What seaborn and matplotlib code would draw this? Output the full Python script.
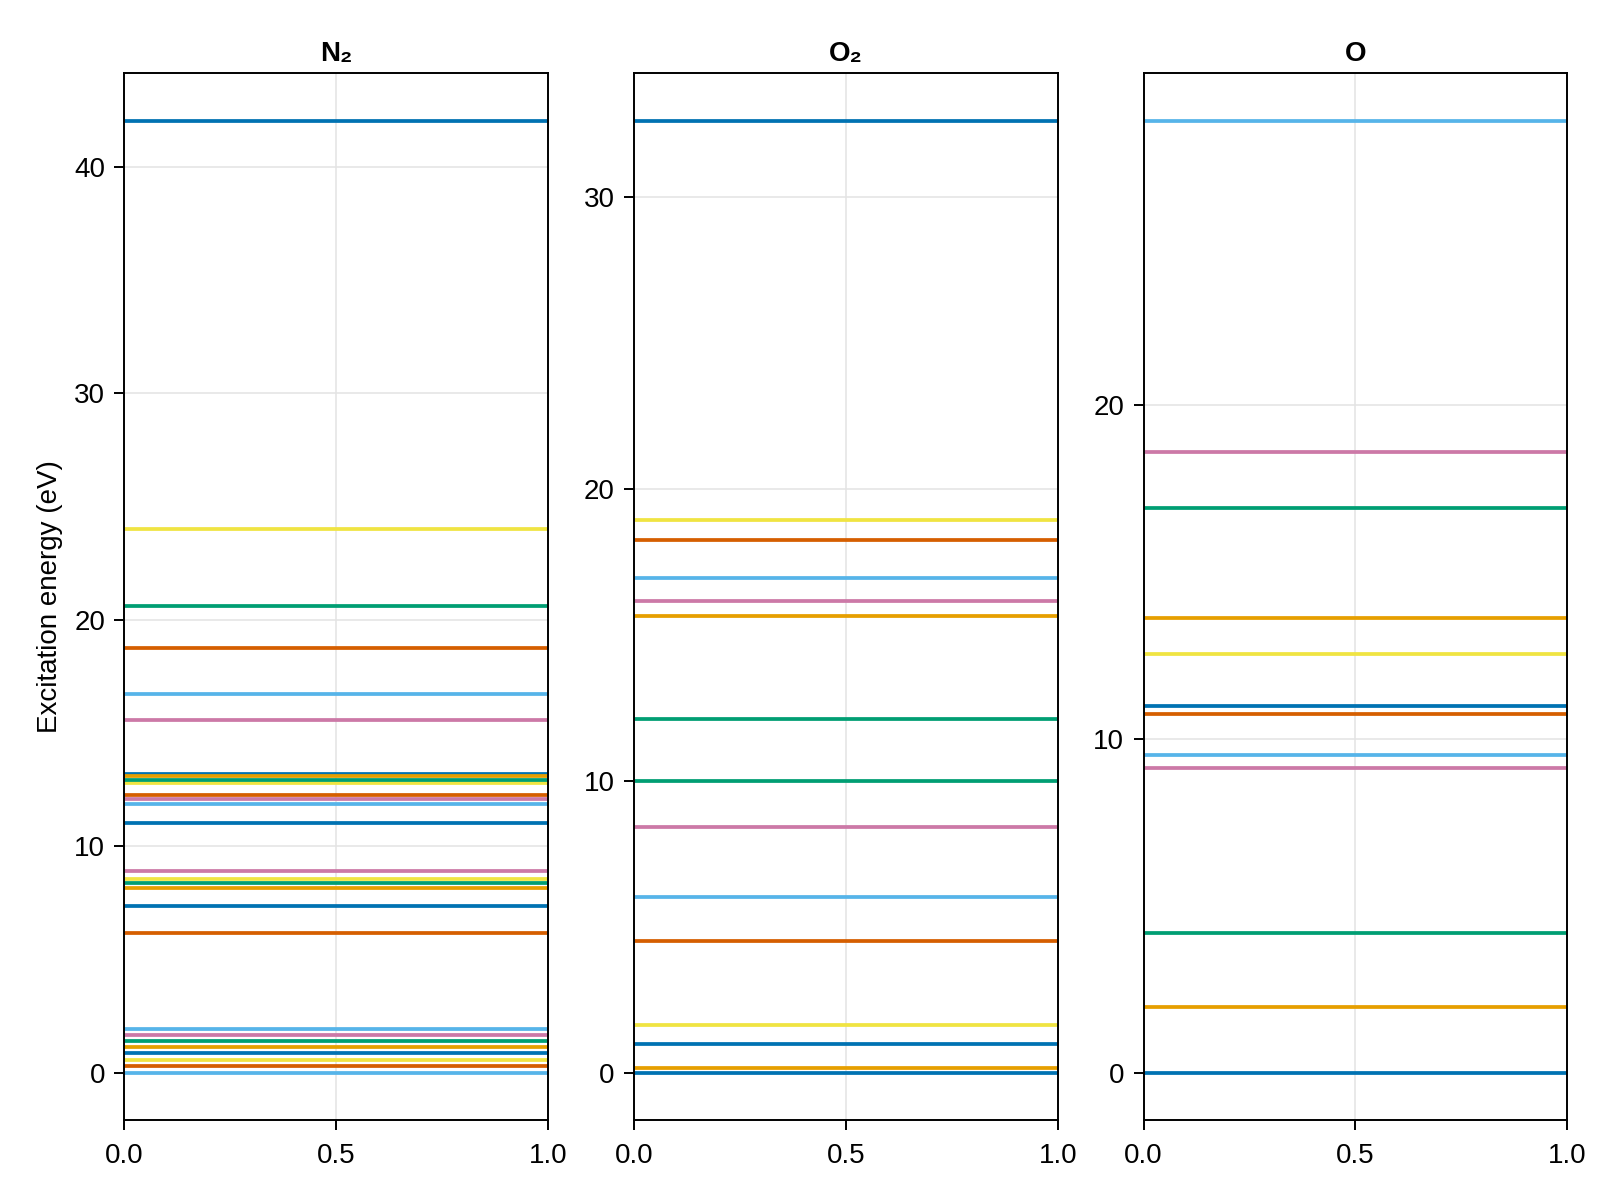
import numpy as np
import seaborn as sns
import matplotlib.pyplot as plt

# energy levels (eV), one list per species
species = ['N₂', 'O₂', 'O']

n2_levels = [0.0, 0.29, 0.57, 0.86, 1.13, 1.40, 1.67, 1.93,
             6.18, 7.36, 8.16, 8.38, 8.56, 8.89,
             11.05, 11.88, 12.08, 12.25, 12.80, 12.95, 13.20, 13.10,
             15.58, 16.73, 18.76, 20.60, 24.01, 42.02]
n2_colors = ['sky', 'verm', 'yellow', 'blue', 'orange', 'green', 'pink', 'sky',
             'verm', 'blue', 'orange', 'green', 'yellow', 'pink',
             'blue', 'sky', 'pink', 'verm', 'yellow', 'green', 'blue', 'orange',
             'pink', 'sky', 'verm', 'green', 'yellow', 'blue']

o2_levels = [0.0, 0.18, 0.98, 1.63, 4.50, 6.01, 8.42, 9.99, 12.10,
             15.63, 16.14, 16.93, 18.25, 18.94, 32.59]
o2_colors = ['blue', 'orange', 'blue', 'yellow', 'verm', 'sky', 'pink', 'green', 'green',
             'orange', 'pink', 'sky', 'verm', 'yellow', 'blue']

o_levels = [0.0, 1.97, 4.19, 9.14, 9.53, 10.75, 11.0, 12.54, 13.62, 16.91, 18.61, 28.52]
o_colors = ['blue', 'orange', 'green', 'pink', 'sky', 'verm', 'blue', 'yellow',
            'orange', 'green', 'pink', 'sky']

# Wong colour scheme
wong = dict(zip(['blue', 'orange', 'green', 'pink', 'sky', 'verm', 'yellow'],
                sns.color_palette(['#0072B2', '#E69F00', '#009E73', '#CC79A7',
                                   '#56B4E9', '#D55E00', '#F0E442'])))

yticks = [[0, 10, 20, 30, 40], [0, 10, 20, 30], [0, 10, 20]]

sns.set_theme(style='white')
plt.rcParams['font.family'] = ['Liberation Sans', 'DejaVu Sans']
plt.rcParams['text.color'] = 'black'
plt.rcParams['axes.labelcolor'] = 'black'
plt.rcParams['xtick.color'] = 'black'
plt.rcParams['ytick.color'] = 'black'

fig, axes = plt.subplots(1, 3, figsize=(16, 12), dpi=100)
plt.subplots_adjust(left=0.0778, right=0.9796, top=0.9388, bottom=0.0663, wspace=0.2024)

panels = [(n2_levels, n2_colors), (o2_levels, o2_colors), (o_levels, o_colors)]
for ax, name, (levels, colors), ticks in zip(axes, species, panels, yticks):
    ax.grid(True, color='#e3e3e3', linewidth=1.1)
    ax.set_axisbelow(True)
    for e, c in zip(levels, colors):
        ax.axhline(e, color=wong[c], linewidth=2.7)
    lo, hi = min(levels), max(levels)
    pad = 0.05 * (hi - lo)
    ax.set_ylim(lo - pad, hi + pad)
    ax.set_xlim(0, 1)
    ax.set_xticks([0.0, 0.5, 1.0])
    ax.set_xticklabels(['0.0', '0.5', '1.0'])
    ax.set_yticks(ticks)
    ax.set_title(name, fontsize=20, fontweight='bold', pad=9, color='black')
    ax.tick_params(axis='both', direction='out', length=7, width=1.4,
                   labelsize=20, left=True, bottom=True, pad=7)
    ax.tick_params(axis='x', pad=9)
    for s in ax.spines.values():
        s.set_color('black')
        s.set_linewidth(1.4)

axes[0].set_ylabel('Excitation energy (eV)', fontsize=20, labelpad=8)

plt.savefig('out.png', dpi=100)
